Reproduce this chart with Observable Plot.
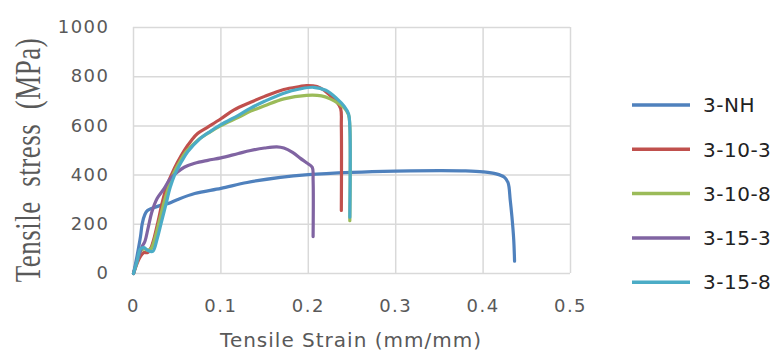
<!DOCTYPE html>
<html>
<head>
<meta charset="utf-8">
<script src="https://cdn.jsdelivr.net/npm/d3@7"></script>
<script src="https://cdn.jsdelivr.net/npm/@observablehq/plot@0.6"></script>
<style>
  html, body { margin: 0; padding: 0; background: #fff; }
</style>
</head>
<body>
<div id="chart"></div>
<script>
// ---- Data ----
const seriesNames = ["3-NH", "3-10-3", "3-10-8", "3-15-3", "3-15-8"];
const seriesColors = ["#4F81BD", "#C0504D", "#9BBB59", "#8064A2", "#4BACC6"];

const s3NH = [[0,0],[0.004,70],[0.008,150],[0.01,203],[0.013,240],[0.016,256],[0.022,266],[0.03,276],[0.04,285],[0.05,300],[0.07,325],[0.1,346],[0.13,370],[0.168,391],[0.2,402],[0.25,411],[0.3,416],[0.35,418],[0.38,417],[0.4,413],[0.415,405],[0.424,392],[0.4285,370],[0.431,300],[0.433,230],[0.435,140],[0.436,50]];
const s3_10_3 = [[0,0],[0.004,40],[0.008,70],[0.012,85],[0.016,85],[0.02,105],[0.024,150],[0.028,210],[0.033,290],[0.038,355],[0.044,406],[0.05,450],[0.058,500],[0.066,540],[0.073,568],[0.085,595],[0.1,629],[0.115,665],[0.134,696],[0.15,720],[0.172,748],[0.19,760],[0.198,764],[0.21,760],[0.218,745],[0.225,723],[0.232,700],[0.237,671],[0.2378,600],[0.2378,256]];
const s3_10_8 = [[0,0],[0.004,45],[0.008,90],[0.012,100],[0.016,95],[0.02,100],[0.025,150],[0.03,220],[0.035,290],[0.04,350],[0.045,400],[0.053,455],[0.06,495],[0.073,540],[0.086,572],[0.1,601],[0.12,635],[0.134,660],[0.15,682],[0.172,710],[0.198,724],[0.215,722],[0.225,710],[0.235,690],[0.242,670],[0.246,645],[0.2475,600],[0.2475,215]];
const s3_15_3 = [[0,0],[0.005,60],[0.01,110],[0.013,130],[0.017,190],[0.021,250],[0.027,305],[0.035,345],[0.042,385],[0.05,412],[0.058,432],[0.07,448],[0.085,460],[0.1,470],[0.12,488],[0.134,500],[0.15,510],[0.164,515],[0.172,510],[0.182,492],[0.191,468],[0.198,450],[0.2045,432],[0.2055,380],[0.2055,150]];
const s3_15_8 = [[0,0],[0.004,50],[0.008,100],[0.012,105],[0.016,95],[0.022,90],[0.027,140],[0.032,210],[0.037,280],[0.042,350],[0.047,400],[0.055,455],[0.062,495],[0.075,545],[0.088,578],[0.1,605],[0.12,643],[0.134,672],[0.15,700],[0.172,733],[0.19,750],[0.206,757],[0.22,745],[0.233,710],[0.241,680],[0.246,649],[0.2475,600],[0.2475,229]];
const seriesData = [s3NH, s3_10_3, s3_10_8, s3_15_3, s3_15_8];

const xTicks = [0, 0.1, 0.2, 0.3, 0.4, 0.5];
const xTickLabels = ["0", "0.1", "0.2", "0.3", "0.4", "0.5"];
const yTicks = [0, 200, 400, 600, 800, 1000];
const yTickLabels = ["0", "200", "400", "600", "800", "1000"];

const xTitle = "Tensile Strain (mm/mm)";
const yTitle = "Tensile  stress  (MPa)";

// ---- Build rows for Plot ----
const rows = [];
seriesData.forEach((arr, i) => arr.forEach(([x, y]) => rows.push({series: seriesNames[i], x, y})));

const gridColor = "#d9d9d9";
const textGray = "#595959";

const chart = Plot.plot({
  width: 780,
  height: 354,
  marginLeft: 133,
  marginRight: 210,
  marginTop: 27,
  marginBottom: 81,
  style: {fontFamily: "DejaVu Sans, sans-serif", fontSize: "18px", background: "#fff", color: textGray, letterSpacing: "1.5px"},
  x: {domain: [0, 0.5]},
  y: {domain: [0, 1000]},
  color: {domain: seriesNames, range: seriesColors},
  marks: [
    Plot.ruleX(xTicks, {stroke: gridColor, strokeWidth: 1.5}),
    Plot.ruleY(yTicks, {stroke: gridColor, strokeWidth: 1.5}),
    Plot.axisX({ticks: xTicks, tickFormat: (d) => xTickLabels[xTicks.indexOf(d)], tickSize: 0, tickPadding: 26, label: null, fill: textGray}),
    Plot.axisY({ticks: yTicks, tickFormat: (d) => yTickLabels[yTicks.indexOf(d)], tickSize: 0, tickPadding: 24, label: null, fill: textGray}),
    ...seriesNames.map((name) => Plot.line(rows.filter(r => r.series === name), {x: "x", y: "y", stroke: "series", strokeWidth: 3.2, curve: "catmull-rom", strokeLinejoin: "round", strokeLinecap: "round"}))
  ]
});

document.getElementById("chart").appendChild(chart);

// ---- Titles and legend ----
const svg = d3.select(chart);

svg.append("text")
  .attr("x", 351)
  .attr("y", 347)
  .attr("text-anchor", "middle")
  .attr("font-family", "DejaVu Sans, sans-serif")
  .attr("font-size", 20)
  .attr("letter-spacing", "1px")
  .attr("fill", textGray)
  .text(xTitle);

svg.append("text")
  .attr("transform", "translate(28,160) scale(1.3,1) rotate(-90)")
  .attr("text-anchor", "middle")
  .attr("dy", "0.35em")
  .attr("font-family", "Liberation Serif, serif")
  .attr("font-size", 27)
  .attr("letter-spacing", "0.5px")
  .style("white-space", "pre")
  .attr("fill", textGray)
  .text(yTitle);

const legend = svg.append("g");
const legendTop = 105, legendGap = 44.3;
seriesNames.forEach((name, i) => {
  const y = legendTop + i * legendGap;
  legend.append("line")
    .attr("x1", 632).attr("x2", 690).attr("y1", y).attr("y2", y)
    .attr("stroke", seriesColors[i]).attr("stroke-width", 3.5);
  legend.append("text")
    .attr("x", 703).attr("y", y).attr("dy", "0.36em")
    .attr("text-anchor", "start")
    .attr("font-family", "DejaVu Sans, sans-serif")
    .attr("font-size", 20)
    .attr("letter-spacing", "0.5px")
    .attr("fill", "#222")
    .text(name);
});
</script>
</body>
</html>
